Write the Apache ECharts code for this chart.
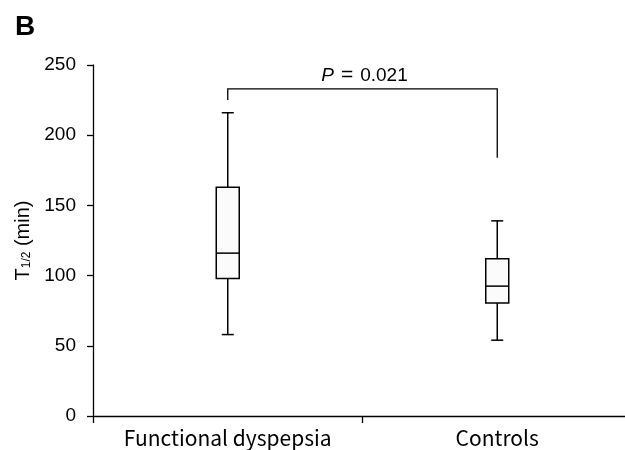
<!DOCTYPE html>
<html>
<head>
<meta charset="utf-8">
<script src="https://cdn.jsdelivr.net/npm/echarts@6/dist/echarts.min.js"></script>
<style>
  html, body { margin: 0; padding: 0; background: #fff; }
  #container { width: 625px; height: 450px; }
</style>
</head>
<body>
<div id="container"></div>
<script>
// chart data
var categories = ['Functional dyspepsia', 'Controls'];
var lowWhisker = [58, 54];
var q1 = [98, 80.5];
var median = [116, 92.5];
var q3 = [163, 112];
var highWhisker = [216, 139];
var yTicks = [0, 50, 100, 150, 200, 250];

// significance bracket
var pValue = '0.021';
var bracketTop = 233;
var bracketLegs = [225, 184];

var boxData = categories.map(function (c, i) {
    return [i, lowWhisker[i], q1[i], median[i], q3[i], highWhisker[i]];
});

var dom = document.getElementById('container');
var myChart = echarts.init(dom, null, { renderer: 'canvas' });

var font = '"Liberation Sans", Arial, sans-serif';

function renderBox(params, api) {
    var i = api.value(0);
    var lo = api.coord([i, api.value(1)]);
    var b1 = api.coord([i, api.value(2)]);
    var md = api.coord([i, api.value(3)]);
    var b3 = api.coord([i, api.value(4)]);
    var hi = api.coord([i, api.value(5)]);
    var x = lo[0];
    var hw = 11.5, cw = 6;
    var stroke = { stroke: '#000', lineWidth: 1.5 };
    return {
        type: 'group',
        children: [
            { type: 'line', shape: { x1: x, y1: hi[1], x2: x, y2: b3[1] }, style: stroke },
            { type: 'line', shape: { x1: x, y1: b1[1], x2: x, y2: lo[1] }, style: stroke },
            { type: 'line', shape: { x1: x - cw, y1: hi[1], x2: x + cw, y2: hi[1] }, style: stroke },
            { type: 'line', shape: { x1: x - cw, y1: lo[1], x2: x + cw, y2: lo[1] }, style: stroke },
            { type: 'rect', shape: { x: x - hw, y: b3[1], width: hw * 2, height: b1[1] - b3[1] },
              style: { fill: '#fbfbfb', stroke: '#000', lineWidth: 1.5 } },
            { type: 'line', shape: { x1: x - hw, y1: md[1], x2: x + hw, y2: md[1] }, style: stroke }
        ]
    };
}

function renderBracket(params, api) {
    var a = api.coord([0, bracketLegs[0]]);
    var b = api.coord([1, bracketLegs[1]]);
    var top = api.coord([0, bracketTop])[1];
    return {
        type: 'group',
        children: [
            { type: 'polyline',
              shape: { points: [[a[0], a[1]], [a[0], top], [b[0], top], [b[0], b[1]]] },
              style: { stroke: '#000', lineWidth: 1.3, fill: null } },
            { type: 'text', x: (a[0] + b[0]) / 2 + 2, y: top - 3,
              style: {
                  text: '{i|P}{e|=}{n|' + pValue + '}',
                  align: 'center', verticalAlign: 'bottom',
                  rich: {
                      i: { fontStyle: 'italic', fontSize: 19, fontFamily: font, fill: '#000' },
                      e: { fontSize: 21, fontFamily: font, fill: '#000', padding: [0, 7, 0, 7] },
                      n: { fontSize: 19, fontFamily: font, fill: '#000' }
                  }
              } }
        ]
    };
}

var option = {
    animation: false,
    title: {
        text: 'B', left: 10, top: 8,
        textStyle: { fontSize: 28, fontWeight: 'bold', fontFamily: font, color: '#000' }
    },
    grid: { left: 93, top: 65, width: 539, height: 351, outerBoundsMode: 'none' },
    xAxis: {
        type: 'category',
        data: categories,
        boundaryGap: true,
        axisLine: { lineStyle: { color: '#000', width: 1.3 } },
        axisTick: { show: true, interval: 0, length: 7, lineStyle: { color: '#000', width: 1.3 } },
        axisLabel: { interval: 0, hideOverlap: false, color: '#000', fontSize: 21, margin: 12,
                     fontFamily: '"Noto Sans CJK KR", "Noto Sans", sans-serif' }
    },
    yAxis: {
        type: 'value',
        min: 0, max: 250, interval: 50,
        name: '{a|T}{s|1/2}{a| (min)}',
        nameLocation: 'middle',
        nameGap: 60,
        nameRotate: 90,
        nameTextStyle: {
            rich: {
                a: { fontSize: 20, fontFamily: font, color: '#000' },
                s: { fontSize: 12, fontFamily: font, color: '#000', verticalAlign: 'bottom', padding: [8, 0, 0, 0] }
            }
        },
        splitLine: { show: false },
        axisLine: { show: true, lineStyle: { color: '#000', width: 1.3 } },
        axisTick: { show: true, length: 6, lineStyle: { color: '#000', width: 1.3 } },
        axisLabel: {
            color: '#000', fontSize: 19, margin: 17, fontFamily: font,
            formatter: function (v) { return yTicks.indexOf(v) >= 0 ? String(v) : ''; }
        }
    },
    series: [
        { type: 'custom', renderItem: renderBox, data: boxData, encode: { x: 0, y: [1, 2, 3, 4, 5] }, z: 3 },
        { type: 'custom', renderItem: renderBracket, data: [[0, bracketTop]], z: 2 }
    ]
};

myChart.setOption(option);
window.addEventListener('resize', myChart.resize);
</script>
</body>
</html>
